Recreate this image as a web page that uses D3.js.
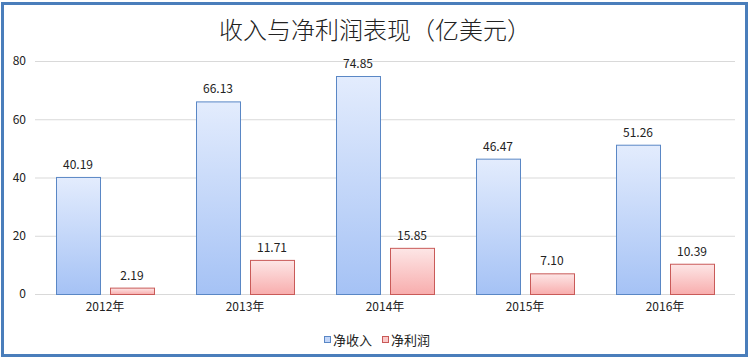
<!DOCTYPE html>
<html><head><meta charset="utf-8">
<script src="https://cdn.jsdelivr.net/npm/d3@7"></script>
<style>body{margin:0;background:#fff;}svg{display:block;}</style>
</head><body>
<script>
const categories = ["2012年","2013年","2014年","2015年","2016年"];
const seriesNames = ["净收入","净利润"];
const revenue = [40.19, 66.13, 74.85, 46.47, 51.26];
const profit = [2.19, 11.71, 15.85, 7.10, 10.39];
const yTicks = [0, 20, 40, 60, 80];
const title = "收入与净利润表现（亿美元）";

const W = 750, H = 361;
const font = "'Noto Sans CJK SC', 'Noto Sans', sans-serif";
const svg = d3.select("body").append("svg").attr("width", W).attr("height", H);
const defs = svg.append("defs");
const grads = [["gBlue","#e3ecfd","#a5c2f5"],["gRed","#fde6e6","#f8adad"]];
grads.forEach(([id,c1,c2])=>{
  const g = defs.append("linearGradient").attr("id",id).attr("x1",0).attr("y1",0).attr("x2",0).attr("y2",1);
  g.append("stop").attr("offset","0%").attr("stop-color",c1);
  g.append("stop").attr("offset","100%").attr("stop-color",c2);
});
const fills = ["url(#gBlue)","url(#gRed)"];
const strokes = ["#5a87c5","#c95a58"];
const legendFill = ["#c3d6f8","#fbc9c9"];

svg.append("rect").attr("x",2.5).attr("y",3.5).attr("width",744).attr("height",352)
  .attr("fill","#fff").attr("stroke","#4a7ebb").attr("stroke-width",3);

svg.append("text").attr("x",375).attr("y",39).attr("text-anchor","middle")
  .attr("font-family",font).attr("font-size",24).attr("font-weight",300).attr("fill","#222").text(title);

const x = d3.scaleBand().domain(categories).range([35,735]);
const y = d3.scaleLinear().domain([0,80]).range([294,61]);

const grid = svg.append("g");
grid.selectAll("line").data(yTicks).join("line")
  .attr("x1",35).attr("x2",735).attr("y1",d=>y(d)+0.5).attr("y2",d=>y(d)+0.5)
  .attr("stroke","#d9d9d9").attr("stroke-width",1);

const yAxis = d3.axisLeft(y).tickValues(yTicks).tickSize(0).tickPadding(0);
const ya = svg.append("g").attr("transform","translate(26,0)").call(yAxis);
ya.select(".domain").remove();
ya.selectAll("text").attr("font-family",font).attr("font-size",12).attr("fill","#222");

const xAxis = d3.axisBottom(x).tickSize(0).tickPadding(0);
const xa = svg.append("g").attr("transform","translate(0,302)").call(xAxis);
xa.select(".domain").remove();
xa.selectAll("text").attr("font-family",font).attr("font-size",12).attr("fill","#222").attr("dy","0.71em");

const barW = 44, gap = 10, groupW = barW*2 + gap;
const sub = d3.scaleOrdinal().domain([0,1]).range([0, barW+gap]);
const data = [revenue, profit];
data.forEach((vals,si)=>{
  const g = svg.append("g");
  g.selectAll("rect").data(vals).join("rect")
    .attr("x",(d,i)=>x(categories[i]) + (x.bandwidth()-groupW)/2 + sub(si) + 0.5)
    .attr("y",d=>y(d)+0.5)
    .attr("width",barW)
    .attr("height",d=>y(0)-y(d))
    .attr("fill",fills[si]).attr("stroke",strokes[si]).attr("stroke-width",1);
  g.selectAll("text").data(vals).join("text")
    .attr("x",(d,i)=>x(categories[i]) + (x.bandwidth()-groupW)/2 + sub(si) + barW/2)
    .attr("y",d=>y(d)-8)
    .attr("text-anchor","middle")
    .attr("font-family",font).attr("font-size",12).attr("fill","#222")
    .text(d=>d.toFixed(2));
});

const leg = svg.append("g");
const legX = [324, 382];
seriesNames.forEach((n,i)=>{
  leg.append("rect").attr("x",legX[i]+0.5).attr("y",336.5).attr("width",6).attr("height",6)
    .attr("fill",legendFill[i]).attr("stroke",strokes[i]);
  leg.append("text").attr("x",legX[i]+9).attr("y",345).attr("font-family",font)
    .attr("font-size",13).attr("fill","#222").text(n);
});
</script>
</body></html>
